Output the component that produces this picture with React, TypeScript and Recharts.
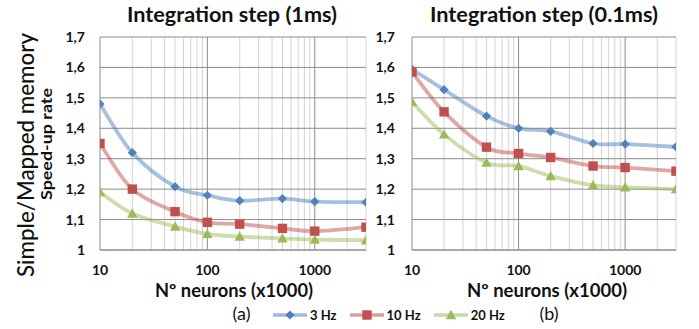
import React from 'react';
import { LineChart, Line, XAxis, YAxis, CartesianGrid, Legend } from 'recharts';

const neurons = [10, 20, 50, 100, 200, 500, 1000, 3000];
const a3Hz = [1.48, 1.32, 1.208, 1.18, 1.162, 1.169, 1.159, 1.157];
const a10Hz = [1.35, 1.2, 1.126, 1.091, 1.085, 1.071, 1.062, 1.075];
const a20Hz = [1.19, 1.12, 1.077, 1.053, 1.044, 1.038, 1.034, 1.032];
const b3Hz = [1.594, 1.527, 1.44, 1.4, 1.39, 1.35, 1.348, 1.339];
const b10Hz = [1.585, 1.454, 1.338, 1.317, 1.304, 1.276, 1.271, 1.259];
const b20Hz = [1.487, 1.38, 1.287, 1.276, 1.243, 1.213, 1.206, 1.2];

const seriesNames = ['3 Hz', '10 Hz', '20 Hz'];
const yTicks = [1, 1.1, 1.2, 1.3, 1.4, 1.5, 1.6, 1.7];
const xTicks = [10, 100, 1000];
const majorX = [100, 1000];
const minorX = [20, 30, 40, 50, 60, 70, 80, 90, 200, 300, 400, 500, 600, 700, 800, 900, 2000, 3000];

const titleA = 'Integration step (1ms)';
const titleB = 'Integration step (0.1ms)';
const xTitle = 'Nº neurons (x1000)';
const yTitle = 'Simple/Mapped memory';
const ySub = 'Speed-up rate';

const COLORS = ['#4f81bd', '#c0504d', '#9bbb59'];
const SHAPES = ['diamond', 'square', 'triangle'];
const FONT = 'Lato, "Open Sans", sans-serif';

const dataA = neurons.map((n, i) => ({ n, s0: a3Hz[i], s1: a10Hz[i], s2: a20Hz[i] }));
const dataB = neurons.map((n, i) => ({ n, s0: b3Hz[i], s1: b10Hz[i], s2: b20Hz[i] }));

// Excel-like smoothed curve (Catmull-Rom style Bezier)
function excelCurve(context: any) {
  let pts: number[][] = [];
  return {
    areaStart() {},
    areaEnd() {},
    lineStart() {
      pts = [];
    },
    point(x: number, y: number) {
      pts.push([+x, +y]);
    },
    lineEnd() {
      if (!pts.length) return;
      context.moveTo(pts[0][0], pts[0][1]);
      for (let i = 0; i < pts.length - 1; i++) {
        const p0 = pts[i - 1] || pts[i];
        const p1 = pts[i];
        const p2 = pts[i + 1];
        const p3 = pts[i + 2] || p2;
        const c1x = p1[0] + (p2[0] - p0[0]) / 6;
        const c1y = p1[1] + (p2[1] - p0[1]) / 6;
        const c2x = p2[0] - (p3[0] - p1[0]) / 6;
        const c2y = p2[1] - (p3[1] - p1[1]) / 6;
        context.bezierCurveTo(c1x, c1y, c2x, c2y, p2[0], p2[1]);
      }
    },
  };
}

function markerPath(shape: string, cx: number, cy: number) {
  if (shape === 'diamond') {
    const r = 4.6;
    return `M${cx},${cy - r}L${cx + r},${cy}L${cx},${cy + r}L${cx - r},${cy}Z`;
  }
  if (shape === 'square') {
    const r = 4.7;
    return `M${cx - r},${cy - r}H${cx + r}V${cy + r}H${cx - r}Z`;
  }
  const r = 5.2;
  return `M${cx},${cy - r}L${cx + r},${cy + r * 0.8}L${cx - r},${cy + r * 0.8}Z`;
}

const makeDot = (idx: number, tag: string) => (props: any) => {
  const { cx, cy, index } = props;
  if (cx == null || cy == null) return <g key={`${tag}-${idx}-${index}`} />;
  return <path key={`${tag}-${idx}-${index}`} d={markerPath(SHAPES[idx], cx, cy)} fill={COLORS[idx]} stroke="none" />;
};

const yFmt = (v: number) => (v === 1 ? '1' : v.toFixed(1).replace('.', ','));

const tickStyle = { fontFamily: FONT, fontWeight: 700, fontSize: 14, fill: '#111' };

const LegendContent = (props: any) => {
  const payload = [...(props.payload || [])].sort(
    (a: any, b: any) => seriesNames.indexOf(a.value) - seriesNames.indexOf(b.value)
  );
  return (
    <div style={{ display: 'flex', alignItems: 'center', fontFamily: FONT, fontWeight: 700, fontSize: 13, color: '#111' }}>
      {payload.map((entry: any, i: number) => {
        const idx = seriesNames.indexOf(entry.value);
        return (
          <div key={entry.value} style={{ display: 'flex', alignItems: 'center', marginLeft: i === 0 ? 0 : 13 }}>
            <svg width={34} height={12}>
              <line x1={0} y1={6} x2={34} y2={6} stroke={COLORS[idx]} strokeOpacity={0.55} strokeWidth={3.5} />
              <path d={markerPath(SHAPES[idx], 17, 6)} fill={COLORS[idx]} />
            </svg>
            <span style={{ marginLeft: 3 }}>{entry.value}</span>
          </div>
        );
      })}
    </div>
  );
};

function Panel(props: { data: any[]; margin: any; tickMargin: number; tag: string; legend?: boolean }) {
  const { data, margin, tickMargin, tag, legend } = props;
  return (
    <LineChart width={699} height={329} data={data} margin={margin}>
      <CartesianGrid horizontal={false} verticalValues={minorX} stroke="#d3d3d3" strokeWidth={1} />
      <CartesianGrid horizontalValues={yTicks} verticalValues={majorX} stroke="#8c8c8c" strokeWidth={1} />
      <XAxis
        dataKey="n"
        type="number"
        scale="log"
        domain={[10, 3000]}
        ticks={xTicks}
        allowDataOverflow
        tickLine={false}
        tickSize={0}
        tickMargin={15}
        height={30}
        axisLine={{ stroke: '#8c8c8c' }}
        tick={tickStyle}
        interval={0}
      />
      <YAxis
        type="number"
        domain={[1, 1.7]}
        ticks={yTicks}
        tickFormatter={yFmt}
        tickLine={false}
        tickSize={0}
        tickMargin={tickMargin}
        width={40}
        axisLine={{ stroke: '#8c8c8c' }}
        tick={tickStyle}
        interval={0}
      />
      {seriesNames.map((name, i) => (
        <Line
          key={name}
          name={name}
          dataKey={`s${i}`}
          type={excelCurve as any}
          stroke={COLORS[i]}
          strokeOpacity={0.5}
          strokeWidth={3.8}
          dot={makeDot(i, tag)}
          activeDot={false}
          isAnimationActive={false}
        />
      ))}
      {legend ? (
        <Legend
          layout="horizontal"
          verticalAlign="middle"
          align="center"
          itemSorter={null as any}
          content={<LegendContent />}
          wrapperStyle={{ position: 'absolute', left: 273, top: 307, width: 260, height: 14 }}
        />
      ) : null}
    </LineChart>
  );
}

export default function App() {
  return (
    <div style={{ position: 'absolute', left: 0, top: 0, width: 699, height: 329, background: '#fff', overflow: 'hidden' }}>
      <div style={{ position: 'absolute', left: 0, top: 0 }}>
        <Panel data={dataA} tag="a" tickMargin={15} margin={{ top: 37, right: 333, bottom: 49, left: 60 }} legend />
      </div>
      <div style={{ position: 'absolute', left: 0, top: 0 }}>
        <Panel data={dataB} tag="b" tickMargin={17} margin={{ top: 37, right: 23, bottom: 49, left: 372 }} />
      </div>
      <svg width={699} height={329} style={{ position: 'absolute', left: 0, top: 0, pointerEvents: 'none' }}>
        <g fontFamily={FONT} fill="#111">
          <text x={232} y={22} textAnchor="middle" fontSize={21} fontWeight={700} textLength={210} lengthAdjust="spacingAndGlyphs">{titleA}</text>
          <text x={544} y={22} textAnchor="middle" fontSize={21} fontWeight={700} textLength={228} lengthAdjust="spacingAndGlyphs">{titleB}</text>
          <text x={234} y={297} textAnchor="middle" fontSize={18} fontWeight={700} textLength={158} lengthAdjust="spacingAndGlyphs">{xTitle}</text>
          <text x={547} y={297} textAnchor="middle" fontSize={18} fontWeight={700} textLength={160} lengthAdjust="spacingAndGlyphs">{xTitle}</text>
          <text x={241.5} y={320} textAnchor="middle" fontSize={18}>(a)</text>
          <text x={549} y={320} textAnchor="middle" fontSize={18}>(b)</text>
          <text transform="translate(34,155) rotate(-90)" textAnchor="middle" fontSize={23} fontWeight={500} textLength={244} lengthAdjust="spacingAndGlyphs">{yTitle}</text>
          <text transform="translate(52,144) rotate(-90)" textAnchor="middle" fontSize={15.5} fontWeight={700} textLength={112} lengthAdjust="spacingAndGlyphs">{ySub}</text>
        </g>
      </svg>
    </div>
  );
}
